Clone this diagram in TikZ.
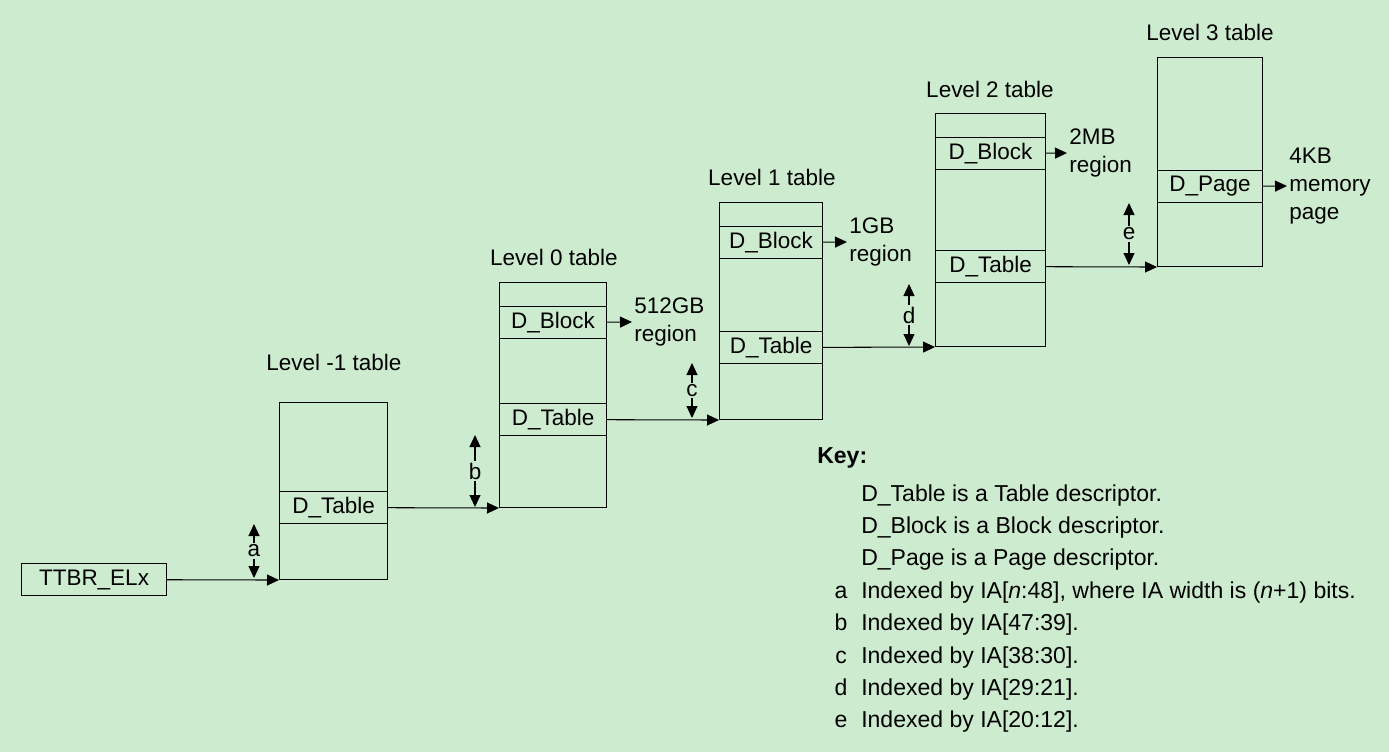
\documentclass[tikz,border=0pt]{standalone}
\usepackage{fontspec}
\setmainfont{Liberation Sans}
\usetikzlibrary{arrows.meta,positioning}
\definecolor{pagebg}{RGB}{205,236,207}
\newcommand{\diagfont}{\fontsize{12.8}{15.8}\selectfont}
\newcommand{\keyfont}{\fontsize{13.1}{15.8}\selectfont}

\begin{document}
\begin{tikzpicture}[x=0.02cm,y=-0.02cm,line width=0.6pt,
  >={Triangle[length=0.24cm,width=0.22cm]},
  every node/.style={font=\diagfont},
  tbl/.style={draw,anchor=north west,inner sep=0pt},
  cell/.style={draw,anchor=north west,minimum height=0.64cm,inner sep=0pt},
  title/.style={inner sep=1pt},
  region/.style={anchor=west,align=left,inner sep=1pt},
  idx/.style={fill=pagebg,inner sep=1pt},
  keytext/.style={anchor=base west,inner sep=1pt,font=\keyfont},
  keyletter/.style={anchor=base,inner sep=1pt,font=\keyfont}]
  \fill[pagebg] (0,0) rectangle (1389,752);

  % base register
  \node[cell,minimum width=2.9cm] (ttbr) at (21,563) {TTBR\_ELx};

  % level -1
  \node[tbl,minimum width=2.16cm,minimum height=3.54cm] (lm1) at (279,402) {};
  \node[cell,minimum width=2.16cm] (lm1t) at (279,491) {D\_Table};
  \node[title] at (334,362) {Level -1 table};

  % level 0
  \node[tbl,minimum width=2.14cm,minimum height=4.5cm] (l0) at (499,282) {};
  \node[cell,minimum width=2.14cm] (l0b) at (499,306) {D\_Block};
  \node[cell,minimum width=2.14cm] (l0t) at (499,403) {D\_Table};
  \node[title] at (554,257) {Level 0 table};
  \node[region] (r0) at (632,322) {512GB\\region};

  % level 1
  \node[tbl,minimum width=2.06cm,minimum height=4.34cm] (l1) at (719,202) {};
  \node[cell,minimum width=2.06cm] (l1b) at (719,226) {D\_Block};
  \node[cell,minimum width=2.06cm] (l1t) at (719,331) {D\_Table};
  \node[title] at (772,177) {Level 1 table};
  \node[region] (r1) at (847,242) {1GB\\region};

  % level 2
  \node[tbl,minimum width=2.2cm,minimum height=4.66cm] (l2) at (935,113) {};
  \node[cell,minimum width=2.2cm] (l2b) at (935,137) {D\_Block};
  \node[cell,minimum width=2.2cm] (l2t) at (935,250) {D\_Table};
  \node[title] at (990,89) {Level 2 table};
  \node[region] (r2) at (1067,153) {2MB\\region};

  % level 3
  \node[tbl,minimum width=2.1cm,minimum height=4.18cm] (l3) at (1157,57) {};
  \node[cell,minimum width=2.1cm] (l3p) at (1157,170) {D\_Page};
  \node[title] at (1210,32) {Level 3 table};
  \node[region] (r3) at (1287,186) {4KB\\memory\\page};

  % walk
  \draw[->] (ttbr) -- (lm1.south west);
  \draw[->] (lm1t) -- (l0.south west);
  \draw[->] (l0t) -- (l1.south west);
  \draw[->] (l1t) -- (l2.south west);
  \draw[->] (l2t) -- (l3.south west);
  \draw[->] (l0b) -- (r0.west);
  \draw[->] (l1b) -- (r1.west);
  \draw[->] (l2b) -- (r2.west);
  \draw[->] (l3p) -- (r3.west);

  % index ranges
  \draw[<->] (254,524) -- (254,578) node[idx,midway] (ia) {a};
  \draw[<->] (475,435) -- (475,507) node[idx,midway] (ib) {b};
  \draw[<->] (692,363) -- (692,418) node[idx,midway] (ic) {c};
  \draw[<->] (909,284) -- (909,346) node[idx,midway] (id) {d};
  \draw[<->] (1129,203) -- (1129,265) node[idx,midway] (ie) {e};

  % key
  \node[keytext,font=\keyfont\bfseries] (key) at (815,463) {Key:};
  \foreach \y/\txt in {501/D\_Table is a Table descriptor.,
                       533/D\_Block is a Block descriptor.,
                       565/D\_Page is a Page descriptor.}
    \node[keytext] at (859,\y) {\txt};
  \foreach \k/\y/\txt in {a/598/{Indexed by IA[\textit{n}:48], where IA width is (\textit{n}+1) bits.},
                          b/630/{Indexed by IA[47:39].},
                          c/663/{Indexed by IA[38:30].},
                          d/695/{Indexed by IA[29:21].},
                          e/727/{Indexed by IA[20:12].}}
  {
    \node[keyletter] (key\k) at (841,\y) {\k};
    \node[keytext] at (859,\y) {\txt};
  }
\end{tikzpicture}
\end{document}
